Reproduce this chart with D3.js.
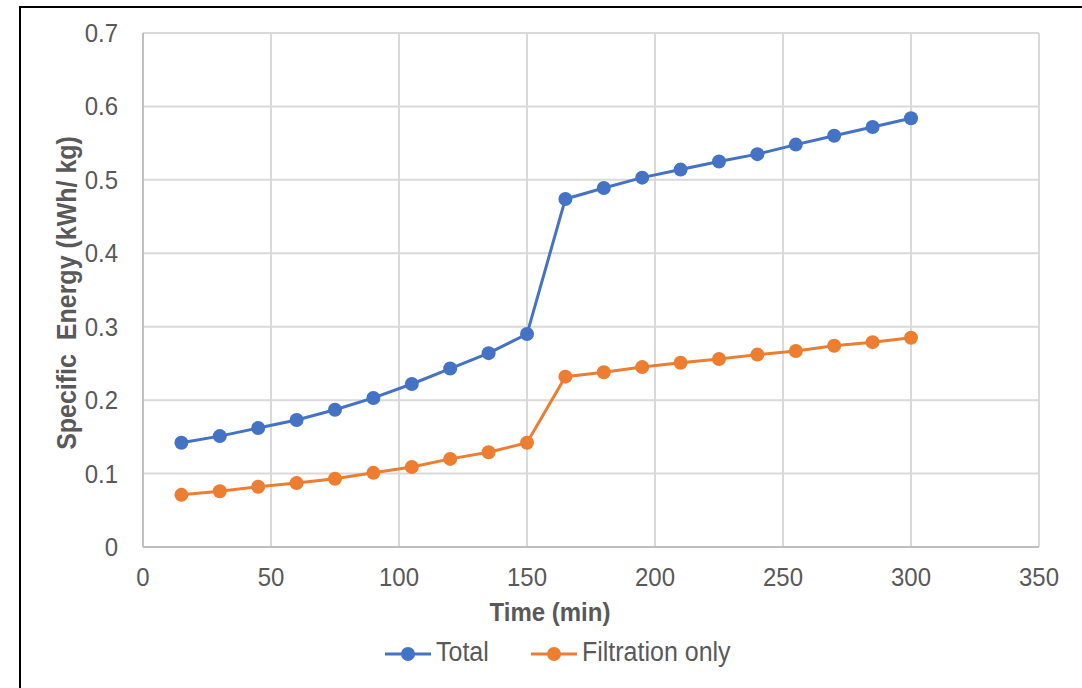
<!DOCTYPE html>
<html>
<head>
<meta charset="utf-8">
<script src="https://cdn.jsdelivr.net/npm/d3@7"></script>
<style>
  body { margin: 0; background: #fff; }
  svg { display: block; font-family: "Liberation Sans", Arial, sans-serif; }
</style>
</head>
<body>
<svg id="chart" width="1082" height="688"></svg>
<script>
const times = [15, 30, 45, 60, 75, 90, 105, 120, 135, 150, 165, 180, 195, 210, 225, 240, 255, 270, 285, 300]
const total = [0.142, 0.151, 0.162, 0.173, 0.187, 0.203, 0.222, 0.243, 0.264, 0.290,
               0.474, 0.489, 0.503, 0.514, 0.525, 0.535, 0.548, 0.560, 0.572, 0.584]
const filtration = [0.071, 0.076, 0.082, 0.087, 0.093, 0.101, 0.109, 0.120, 0.129, 0.142,
                    0.232, 0.238, 0.245, 0.251, 0.256, 0.262, 0.267, 0.274, 0.279, 0.285]
const xTicks = [0, 50, 100, 150, 200, 250, 300, 350]
const yTicks = [0, 0.1, 0.2, 0.3, 0.4, 0.5, 0.6, 0.7]
const seriesNames = ['Total', 'Filtration only']
const seriesColors = ['#4472C4', '#ED7D31']

const svg = d3.select('#chart')

// outer frame (only left and top edges are in view)
svg.append('rect').attr('x', 20).attr('y', 7).attr('width', 1100).attr('height', 700)
  .attr('fill', 'none').attr('stroke', '#000').attr('stroke-width', 2)

const x = d3.scaleLinear().domain([0, 350]).range([143, 1039])
const y = d3.scaleLinear().domain([0, 0.7]).range([547, 33])

// grid
svg.append('g').selectAll('line').data(xTicks).enter().append('line')
  .attr('x1', d => x(d)).attr('x2', d => x(d)).attr('y1', y(0)).attr('y2', y(0.7))
  .attr('stroke', '#d9d9d9').attr('stroke-width', 2)
svg.append('g').selectAll('line').data(yTicks).enter().append('line')
  .attr('x1', x(0)).attr('x2', x(350)).attr('y1', d => y(d)).attr('y2', d => y(d))
  .attr('stroke', '#d9d9d9').attr('stroke-width', 2)
// axis baselines
svg.append('line').attr('x1', x(0)).attr('x2', x(350)).attr('y1', y(0)).attr('y2', y(0))
  .attr('stroke', '#bfbfbf').attr('stroke-width', 2)
svg.append('line').attr('x1', x(0)).attr('x2', x(0)).attr('y1', y(0)).attr('y2', y(0.7))
  .attr('stroke', '#bfbfbf').attr('stroke-width', 2)

// tick labels (slightly taller than wide, like the source)
svg.append('g').selectAll('text').data(xTicks).enter().append('text')
  .attr('transform', d => `translate(${x(d)},586) scale(1,1.08)`).attr('text-anchor', 'middle')
  .attr('font-size', 24).attr('fill', '#595959').text(d => d)
svg.append('g').selectAll('text').data(yTicks).enter().append('text')
  .attr('transform', d => `translate(118,${y(d) + 9}) scale(1,1.08)`).attr('text-anchor', 'end')
  .attr('font-size', 24).attr('fill', '#595959').text(d => d)

// axis titles
svg.append('text').attr('transform', 'translate(550,621) scale(1,1.08)').attr('text-anchor', 'middle')
  .attr('font-size', 24).attr('font-weight', 'bold').attr('fill', '#595959').text('Time (min)')
svg.append('text').attr('transform', 'translate(76,293) rotate(-90) scale(1,1.08)').attr('text-anchor', 'middle')
  .attr('font-size', 25).attr('font-weight', 'bold').attr('fill', '#595959')
  .attr('xml:space', 'preserve').text('Specific  Energy (kWh/ kg)')

// series
const line = d3.line().x((d, i) => x(times[i])).y(d => y(d))
;[total, filtration].forEach((vals, k) => {
  svg.append('path').datum(vals).attr('d', line).attr('fill', 'none')
    .attr('stroke', seriesColors[k]).attr('stroke-width', 3)
  svg.append('g').selectAll('circle').data(vals).enter().append('circle')
    .attr('cx', (d, i) => x(times[i])).attr('cy', d => y(d)).attr('r', 7)
    .attr('fill', seriesColors[k])
})

// legend
const legendX = [385, 531]
seriesNames.forEach((name, k) => {
  const g = svg.append('g').attr('transform', `translate(${legendX[k]},654)`)
  g.append('line').attr('x1', 0).attr('x2', 46).attr('stroke', seriesColors[k]).attr('stroke-width', 3)
  g.append('circle').attr('cx', 23).attr('r', 7).attr('fill', seriesColors[k])
  g.append('text').attr('transform', 'translate(51,7) scale(1,1.08)')
    .attr('font-size', 25).attr('fill', '#595959').text(name)
})
</script>
</body>
</html>
